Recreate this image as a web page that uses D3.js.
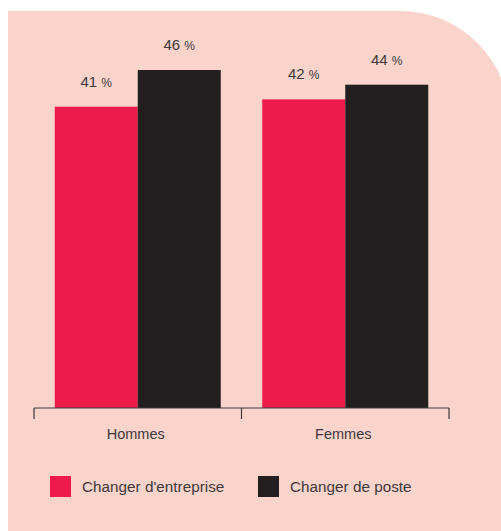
<!DOCTYPE html>
<html><head><meta charset="utf-8">
<script src="https://cdn.jsdelivr.net/npm/d3@7"></script>
<style>html,body{margin:0;padding:0;background:#fff;}svg{display:block;}</style>
</head><body>
<script>
const categories = ["Hommes", "Femmes"];
const seriesNames = ["Changer d'entreprise", "Changer de poste"];
const entreprise = [41, 42];
const poste = [46, 44];
const colors = ["#ee1a4a", "#231f20"];

const W = 501, H = 531;
const svg = d3.select("body").append("svg").attr("width", W).attr("height", H);

// background with rounded top-right corner
const bx = 8, by = 11, bw = 510, r = 110;
const p = d3.path();
p.moveTo(bx, by);
p.lineTo(bw - r, by);
p.arc(bw - r, by + r, r, -Math.PI / 2, 0);
p.lineTo(bw, H + 5);
p.lineTo(bx, H + 5);
p.closePath();
svg.append("path").attr("d", p.toString()).attr("fill", "#fad3cb");

const data = categories.map((c, i) => ({ cat: c, vals: [entreprise[i], poste[i]] }));

const x0 = d3.scaleBand().domain(categories).range([34, 449]).padding(0);
const x1 = d3.scaleBand().domain(seriesNames).range([20.75, x0.bandwidth() - 20.75]).padding(0);
const y = d3.scaleLinear().domain([0, 46]).range([408, 70]);

const g = svg.append("g");
data.forEach(d => {
  const gg = g.append("g").attr("transform", `translate(${x0(d.cat)},0)`);
  d.vals.forEach((v, j) => {
    gg.append("rect")
      .attr("x", x1(seriesNames[j]))
      .attr("y", y(v))
      .attr("width", x1.bandwidth())
      .attr("height", y(0) - y(v))
      .attr("fill", colors[j]);
    const t = gg.append("text")
      .attr("x", x1(seriesNames[j]) + x1.bandwidth() / 2)
      .attr("y", y(v) - 20)
      .attr("text-anchor", "middle")
      .attr("font-family", "Liberation Sans, Arial, sans-serif")
      .attr("font-size", 15)
      .attr("fill", "#3d3a3b");
    t.append("tspan").text(v + " ");
    t.append("tspan").attr("font-size", 12).text("%");
  });
});

// axis
const axis = svg.append("g");
axis.append("line").attr("x1", 34).attr("x2", 449).attr("y1", 408).attr("y2", 408)
  .attr("stroke", "#3d3a3b").attr("stroke-width", 1.2);
const tickPos = categories.map(c => x0(c)).concat([x0.range()[1]]);
tickPos.forEach(tx => {
  axis.append("line").attr("x1", tx).attr("x2", tx).attr("y1", 408).attr("y2", 419)
    .attr("stroke", "#3d3a3b").attr("stroke-width", 1.2);
});
categories.forEach(c => {
  axis.append("text")
    .attr("x", x0(c) + x0.bandwidth() / 2 - 2)
    .attr("y", 439)
    .attr("text-anchor", "middle")
    .attr("font-family", "Liberation Sans, Arial, sans-serif")
    .attr("font-size", 14.5)
    .attr("fill", "#3d3a3b")
    .text(c);
});

// legend
const legendX = [50, 258];
seriesNames.forEach((s, i) => {
  const lg = svg.append("g").attr("transform", `translate(${legendX[i]},476)`);
  lg.append("rect").attr("width", 21).attr("height", 21).attr("fill", colors[i]);
  lg.append("text").attr("x", 32).attr("y", 15.5)
    .attr("font-family", "Liberation Sans, Arial, sans-serif")
    .attr("font-size", 15.3)
    .attr("fill", "#3d3a3b")
    .text(s);
});
</script>
</body></html>
